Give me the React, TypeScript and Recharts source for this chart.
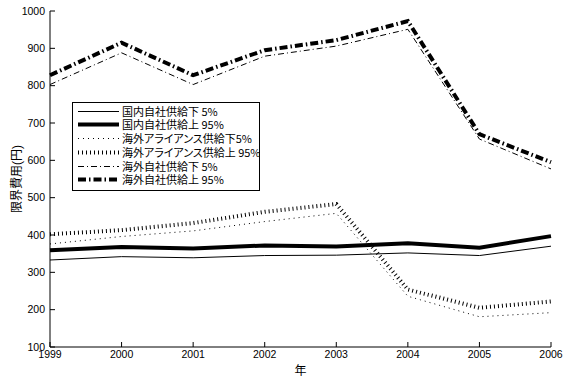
import React from 'react';
import { LineChart, Line, XAxis, YAxis, Legend } from 'recharts';

const W = 567;
const H = 382;
const FONT = '"Liberation Sans", Arial, sans-serif';
const JP = '"Liberation Sans", "Noto Sans CJK JP", sans-serif';
const JP_LEGEND = '"Noto Sans CJK JP", "Liberation Sans", sans-serif';

const years = [1999, 2000, 2001, 2002, 2003, 2004, 2005, 2006];
const yTicks = [100, 200, 300, 400, 500, 600, 700, 800, 900, 1000];

const seriesNames = [
  '国内自社供給下 5%',
  '国内自社供給上 95%',
  '海外アライアンス供給下5%',
  '海外アライアンス供給上 95%',
  '海外自社供給下 5%',
  '海外自社供給上 95%',
];

const domesticLow5 = [333, 342, 339, 345, 346, 352, 345, 370];
const domesticHigh95 = [359, 368, 364, 372, 369, 378, 366, 397];
const allianceLow5 = [376, 396, 411, 436, 458, 236, 181, 192];
const allianceHigh95 = [402, 413, 432, 462, 483, 254, 205, 222];
const overseasLow5 = [803, 888, 803, 879, 906, 951, 657, 577];
const overseasHigh95 = [828, 915, 828, 895, 922, 973, 670, 595];

const seriesValues = [domesticLow5, domesticHigh95, allianceLow5, allianceHigh95, overseasLow5, overseasHigh95];

const data = years.map((year, i) => {
  const row: Record<string, number> = { year };
  seriesValues.forEach((vals, s) => {
    row['s' + s] = vals[i];
  });
  return row;
});

const lineStyles: { width: number; dash?: string }[] = [
  { width: 1 },
  { width: 4 },
  { width: 1, dash: '1 4' },
  { width: 4, dash: '1 3' },
  { width: 1, dash: '6 3 1 3' },
  { width: 4, dash: '8 3 1.5 3' },
];

const LegendBox = () => (
  <div
    style={{
      position: 'relative',
      width: 188,
      height: 89,
      border: '1px solid #000',
      boxSizing: 'border-box',
      background: '#fff',
      overflow: 'hidden',
    }}
  >
    {seriesNames.map((name, i) => {
      const st = lineStyles[i];
      const cy = 8.2 + 13.7 * i;
      return (
        <div key={name} style={{ position: 'absolute', left: 0, top: cy - 6.5, height: 13, width: 186 }}>
          <svg width={44} height={13} style={{ position: 'absolute', left: 5, top: 0 }}>
            <line x1={0} y1={6.5} x2={41} y2={6.5} stroke="#000" strokeWidth={st.width} strokeDasharray={st.dash} />
          </svg>
          <span
            style={{
              position: 'absolute',
              left: 49,
              top: 0,
              lineHeight: '13px',
              height: 13,
              fontSize: 11,
              fontFamily: JP_LEGEND,
              whiteSpace: 'nowrap',
              color: '#000',
              fontFeatureSettings: '"palt" 1',
            }}
          >
            {name}
          </span>
        </div>
      );
    })}
  </div>
);

const YLabel = (props: any) => {
  const vb = props.viewBox || { x: 0, y: 11, width: 50, height: 336 };
  const cx = vb.x + 17;
  const cy = vb.y + vb.height / 2;
  return (
    <text
      x={cx}
      y={cy}
      transform={`rotate(-90 ${cx} ${cy})`}
      textAnchor="middle"
      dominantBaseline="central"
      fontSize={12}
      fontFamily={JP}
      fill="#000"
    >
      限界費用(円)
    </text>
  );
};

const XLabel = (props: any) => {
  const vb = props.viewBox || { x: 50, y: 347, width: 501, height: 35 };
  const cx = vb.x + vb.width / 2;
  return (
    <text x={cx} y={vb.y + 28} textAnchor="middle" fontSize={12} fontFamily={JP} fill="#000">
      年
    </text>
  );
};

export default function App() {
  return (
    <div style={{ position: 'absolute', left: 0, top: 0, width: W, height: H, background: '#fff' }}>
      <LineChart width={W} height={H} data={data} margin={{ top: 11, right: 16, bottom: 0, left: 0 }}>
        <XAxis
          xAxisId="x"
          dataKey="year"
          type="number"
          domain={[1999, 2006]}
          ticks={years}
          interval={0}
          height={35}
          tickSize={-5}
          tickMargin={9}
          axisLine={{ stroke: '#000' }}
          tickLine={{ stroke: '#000' }}
          tick={{ fill: '#000', fontSize: 10.5, fontFamily: FONT }}
          label={<XLabel />}
        />
        <XAxis
          xAxisId="xt"
          orientation="top"
          dataKey="year"
          type="number"
          domain={[1999, 2006]}
          ticks={years}
          interval={0}
          height={0}
          tickSize={-5}
          axisLine={{ stroke: '#000' }}
          tickLine={{ stroke: '#000' }}
          tick={false}
          allowDataOverflow
        />
        <YAxis
          yAxisId="y"
          type="number"
          domain={[100, 1000]}
          ticks={yTicks}
          interval={0}
          width={50}
          tickSize={-5}
          tickMargin={10}
          axisLine={{ stroke: '#000' }}
          tickLine={{ stroke: '#000' }}
          tick={{ fill: '#000', fontSize: 10.5, fontFamily: FONT }}
          allowDataOverflow
          label={<YLabel />}
        />
        <YAxis
          yAxisId="yr"
          orientation="right"
          type="number"
          domain={[100, 1000]}
          ticks={yTicks}
          interval={0}
          width={0}
          tickSize={-5}
          axisLine={{ stroke: '#000' }}
          tickLine={{ stroke: '#000' }}
          tick={false}
          allowDataOverflow
        />
        <Legend
          layout="vertical"
          align="center"
          verticalAlign="middle"
          content={<LegendBox />}
          wrapperStyle={{ position: 'absolute', left: 72, top: 102, width: 188, height: 89 }}
        />
        {seriesNames.map((name, i) => (
          <Line
            key={name}
            xAxisId="x"
            yAxisId="y"
            type="linear"
            dataKey={'s' + i}
            name={name}
            stroke="#000"
            strokeWidth={lineStyles[i].width}
            strokeDasharray={lineStyles[i].dash}
            dot={false}
            activeDot={false}
            isAnimationActive={false}
          />
        ))}
      </LineChart>
    </div>
  );
}
